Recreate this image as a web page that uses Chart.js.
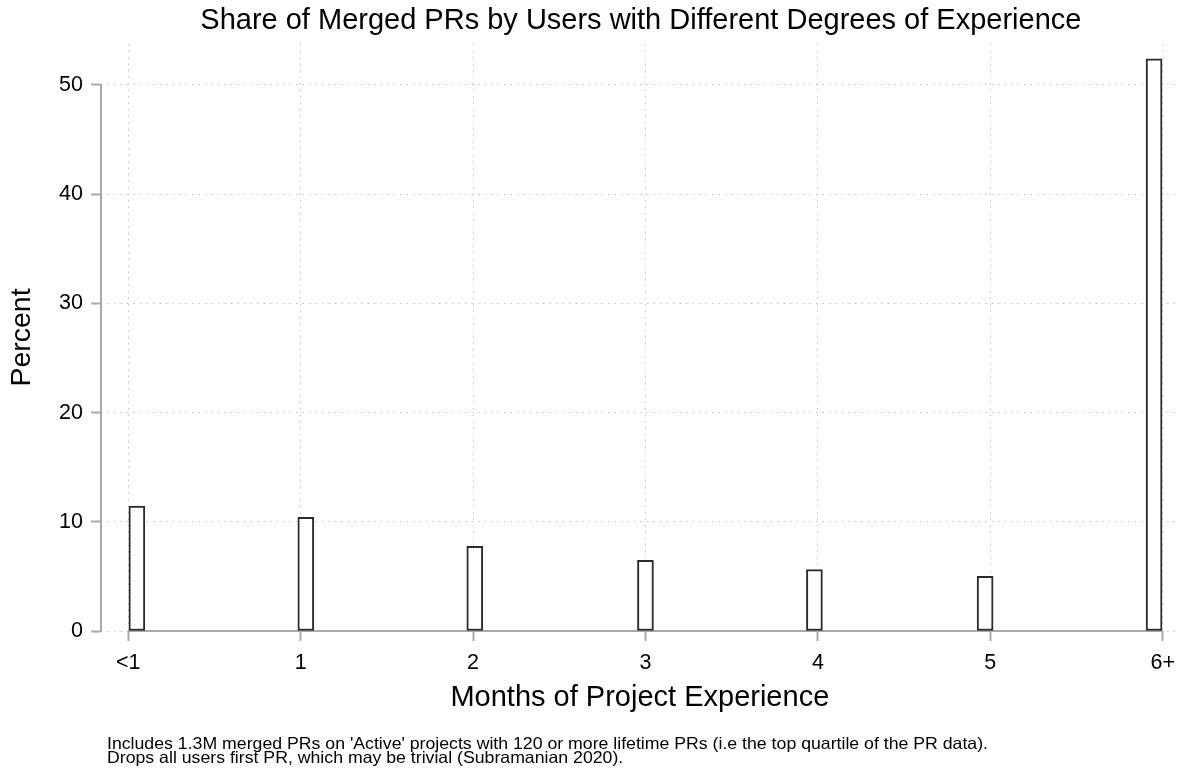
<!DOCTYPE html>
<html>
<head>
<meta charset="utf-8">
<script src="https://cdn.jsdelivr.net/npm/chart.js@4.4.1/dist/chart.umd.min.js"></script>
<style>
  html, body { margin: 0; padding: 0; background: #fff; }
  #wrap { width: 1184px; height: 771px; position: relative; }
</style>
</head>
<body>
<div id="wrap"><canvas id="chart"></canvas></div>
<script>
// data
const xLabels = ['<1', '1', '2', '3', '4', '5', '6+'];
const xTicks = [0, 1, 2, 3, 4, 5, 6];
const barX = [0.05, 1.03, 2.01, 3.0, 3.98, 4.97, 5.95];
const percent = [11.45, 10.4, 7.76, 6.47, 5.62, 5.0, 52.4];
const yTicks = [0, 10, 20, 30, 40, 50];

const titleText = 'Share of Merged PRs by Users with Different Degrees of Experience';
const noteLines = [
  "Includes 1.3M merged PRs on 'Active' projects with 120 or more lifetime PRs (i.e the top quartile of the PR data).",
  'Drops all users first PR, which may be trivial (Subramanian 2020).'
];

const FONT = '"Liberation Sans", Arial, sans-serif';
const axisGray = '#a9a9a9';
const gridGray = '#c4c4c4';

// Stata-style axis lines that only span the tick range, plus title and note
const stataDecor = {
  id: 'stataDecor',
  beforeDatasetsDraw(chart) {
    const { ctx, scales: { x, y } } = chart;
    ctx.save();
    ctx.strokeStyle = axisGray;
    ctx.lineWidth = 2;
    ctx.beginPath();
    const y0 = y.getPixelForValue(0);
    ctx.moveTo(x.getPixelForValue(xTicks[0]), y0);
    ctx.lineTo(x.getPixelForValue(xTicks[xTicks.length - 1]), y0);
    const xl = chart.chartArea.left;
    ctx.moveTo(xl, y.getPixelForValue(yTicks[0]) + 1);
    ctx.lineTo(xl, y.getPixelForValue(yTicks[yTicks.length - 1]) - 1);
    ctx.stroke();
    ctx.restore();
  },
  afterDraw(chart) {
    const { ctx, chartArea } = chart;
    ctx.save();
    ctx.fillStyle = '#000';
    ctx.textBaseline = 'alphabetic';
    ctx.textAlign = 'center';
    ctx.font = '29px ' + FONT;
    ctx.fillText(titleText, (chartArea.left + chartArea.right) / 2 + 1, 29);
    ctx.textAlign = 'left';
    ctx.font = '16.5px ' + FONT;
    // note text in the reference is a little wider than the local font
    const w = ctx.measureText(noteLines[0]).width;
    const sx = 881 / w;
    ctx.translate(107, 0);
    ctx.scale(sx, 1);
    noteLines.forEach((line, i) => ctx.fillText(line, 0, 749 + i * 14));
    ctx.restore();
  }
};

new Chart(document.getElementById('chart'), {
  type: 'bar',
  data: {
    datasets: [{
      data: barX.map((v, i) => ({ x: v, y: percent[i] })),
      backgroundColor: '#fff',
      borderColor: '#2b2b2b',
      borderWidth: 2,
      borderSkipped: false,
      barThickness: 16
    }]
  },
  options: {
    responsive: true,
    maintainAspectRatio: false,
    animation: false,
    layout: { padding: { top: 44, right: 4, left: 0, bottom: 51 } },
    plugins: { legend: { display: false }, tooltip: { enabled: false }, title: { display: false } },
    scales: {
      x: {
        type: 'linear',
        offset: false,
        min: -0.158,
        max: 6.093,
        afterBuildTicks: s => { s.ticks = xTicks.map(v => ({ value: v })); },
        afterFit: s => { s.height = 89; },
        ticks: {
          autoSkip: false, maxRotation: 0, padding: 9, color: '#000',
          font: { size: 21.5, family: FONT },
          callback: v => xLabels[xTicks.indexOf(v)]
        },
        grid: {
          offset: false, color: gridGray, lineWidth: 1,
          tickLength: 10, tickColor: axisGray, tickWidth: 2, tickBorderDash: []
        },
        border: { display: false, dash: [1.5, 5] },
        title: {
          display: true, text: 'Months of Project Experience', color: '#000',
          font: { size: 29, family: FONT, lineHeight: 1 }, padding: { top: 0, bottom: 7.5 }
        }
      },
      y: {
        min: 0,
        max: 53.75,
        afterBuildTicks: s => { s.ticks = yTicks.map(v => ({ value: v })); },
        afterFit: s => { s.width = 101; },
        ticks: { padding: 8, color: '#000', font: { size: 21.5, family: FONT } },
        grid: {
          color: gridGray, lineWidth: 1,
          tickLength: 10, tickColor: axisGray, tickWidth: 2, tickBorderDash: []
        },
        border: { display: false, dash: [1.5, 5] },
        title: {
          display: true, text: 'Percent', color: '#000',
          font: { size: 28.5, family: FONT, lineHeight: 1 }, padding: { top: 7.5, bottom: 0 }
        }
      }
    }
  },
  plugins: [stataDecor]
});
</script>
</body>
</html>
